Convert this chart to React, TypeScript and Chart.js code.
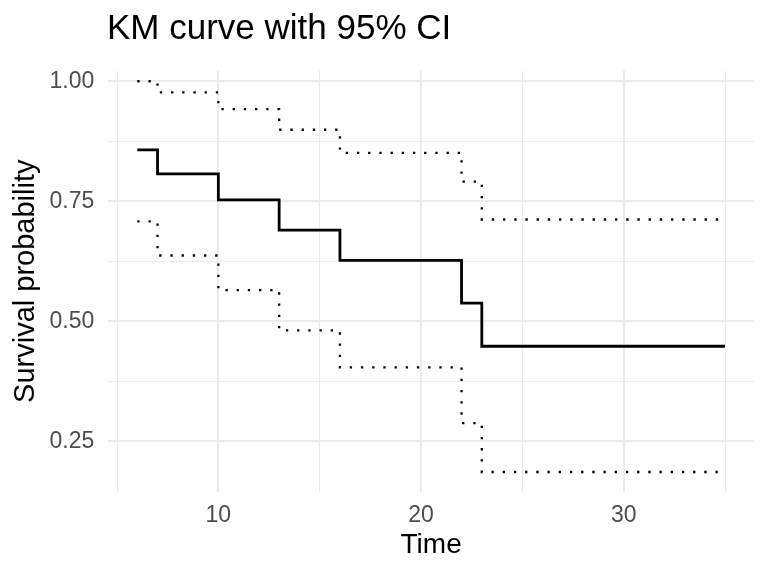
import React, { useEffect, useRef } from "react";
import { Chart, registerables } from "chart.js";

Chart.register(...registerables);

const times = [6, 7, 10, 13, 16, 22, 23, 35];
const survival = [0.857, 0.807, 0.753, 0.690, 0.627, 0.538, 0.448, 0.448];
const lowerCI = [0.708, 0.637, 0.565, 0.481, 0.404, 0.288, 0.186, 0.186];
const upperCI = [1.0, 0.977, 0.942, 0.899, 0.851, 0.791, 0.712, 0.712];
const xTicks = [5, 10, 15, 20, 25, 30, 35];
const yTicks = [0.25, 0.375, 0.5, 0.625, 0.75, 0.875, 1.0];
const titleText = "KM curve with 95% CI";
const xTitle = "Time";
const yTitle = "Survival probability";

const FONT = '"Liberation Sans", Arial, sans-serif';

const toPoints = (ys: number[]) => times.map((t, i) => ({ x: t, y: ys[i] }));

export default function App() {
  const ref = useRef<HTMLCanvasElement | null>(null);

  useEffect(() => {
    document.body.style.margin = "0";
    const canvas = ref.current;
    if (!canvas) return;

    const titlePlugin = {
      id: "plotTitle",
      afterDraw(chart: any) {
        const ctx = chart.ctx;
        ctx.save();
        ctx.font = `35px ${FONT}`;
        ctx.fillStyle = "#000000";
        ctx.textAlign = "left";
        ctx.textBaseline = "alphabetic";
        ctx.fillText(titleText, 107, 38.5);
        ctx.restore();
      },
    };

    const chart = new Chart(canvas, {
      type: "line",
      data: {
        datasets: [
          {
            label: "upper",
            data: toPoints(upperCI),
            stepped: true,
            borderColor: "#000000",
            borderWidth: 2.3,
            borderDash: [2.3, 8.9],
            pointRadius: 0,
            fill: false,
          },
          {
            label: "lower",
            data: toPoints(lowerCI),
            stepped: true,
            borderColor: "#000000",
            borderWidth: 2.3,
            borderDash: [2.3, 8.9],
            pointRadius: 0,
            fill: false,
          },
          {
            label: "survival",
            data: toPoints(survival),
            stepped: true,
            borderColor: "#000000",
            borderWidth: 2.8,
            pointRadius: 0,
            fill: false,
          },
        ],
      },
      options: {
        animation: false,
        responsive: false,
        layout: { padding: { left: 0, right: 14, top: 70.7, bottom: 0 } },
        plugins: {
          legend: { display: false },
          tooltip: { enabled: false },
          title: { display: false },
        },
        scales: {
          x: {
            type: "linear",
            min: 4.57,
            max: 36.43,
            afterBuildTicks: (s: any) => {
              s.ticks = xTicks.map((v) => ({ value: v }));
            },
            afterFit: (s: any) => {
              s.height = 84.3;
            },
            grid: {
              color: "#EBEBEB",
              lineWidth: (c: any) => (c.tick && c.tick.value % 10 === 0 ? 2 : 1),
              drawTicks: false,
            },
            border: { display: false },
            ticks: {
              autoSkip: false,
              maxRotation: 0,
              padding: 10,
              color: "#4D4D4D",
              font: { family: FONT, size: 23 },
              callback: (v: any) => (Number(v) % 10 === 0 ? String(v) : ""),
            },
            title: {
              display: true,
              text: xTitle,
              color: "#000000",
              font: { family: FONT, size: 28 },
              padding: { top: 0, bottom: 13.5 },
            },
          },
          y: {
            type: "linear",
            min: 0.145,
            max: 1.022,
            afterBuildTicks: (s: any) => {
              s.ticks = yTicks.map((v) => ({ value: v }));
            },
            afterFit: (s: any) => {
              s.width = 108.3;
            },
            grid: {
              color: "#EBEBEB",
              lineWidth: (c: any) =>
                c.tick && Math.abs((c.tick.value * 4) - Math.round(c.tick.value * 4)) < 1e-6 ? 2 : 1,
              drawTicks: false,
            },
            border: { display: false },
            ticks: {
              autoSkip: false,
              padding: 14,
              color: "#4D4D4D",
              font: { family: FONT, size: 23 },
              callback: (v: any) => {
                const n = Number(v);
                return Math.abs(n * 4 - Math.round(n * 4)) < 1e-6 ? n.toFixed(2) : "";
              },
            },
            title: {
              display: true,
              text: yTitle,
              color: "#000000",
              font: { family: FONT, size: 29 },
              padding: { top: 8.5, bottom: 0 },
            },
          },
        },
      },
      plugins: [titlePlugin],
    });

    return () => {
      chart.destroy();
    };
  }, []);

  return (
    <div style={{ width: 768, height: 576 }}>
      <canvas ref={ref} width={768} height={576} style={{ display: "block" }} />
    </div>
  );
}
